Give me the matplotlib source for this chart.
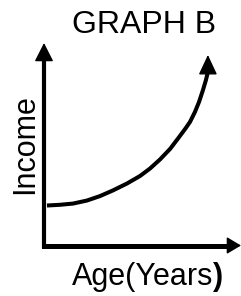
import matplotlib.pyplot as plt

# curve (age vs income, arbitrary 0-100 units)
age = [1.5, 8.1, 14.7, 21.8, 28.4, 35.0, 42.1, 48.7, 53.8, 58.9,
       64.0, 68.0, 71.6, 74.1, 76.6, 78.7, 80.7, 82.2, 83.2]
income = [19.75, 20.1, 20.7, 22.2, 24.4, 27.2, 30.6, 34.3, 38.0, 42.5,
          47.7, 52.8, 57.5, 61.0, 65.9, 70.9, 76.8, 81.7, 85.7]
tip_age, tip_income = 83.2, 94.1

title = "GRAPH B"
xlabel = "Age(Years"
xlabel_end = ")"
ylabel = "Income"

W, H = 241, 296
plt.rcParams['font.family'] = ['Liberation Sans', 'DejaVu Sans']
fig = plt.figure(figsize=(W / 100, H / 100), dpi=100)

# axes corner at (44, 245.5) px, arrow tips at x=241 and y=43
x0, y0, x1, y1 = 44, 245.5, 241, 43
ax = fig.add_axes([x0 / W, 1 - y0 / H, (x1 - x0) / W, (y0 - y1) / H])
ax.set_xlim(0, 100)
ax.set_ylim(0, 100)
ax.axis('off')

# axis lines
ax.plot([0, 95], [0, 0], color='black', lw=3.6, solid_capstyle='projecting', clip_on=False)
ax.plot([0, 0], [0, 95], color='black', lw=3.0, solid_capstyle='projecting', clip_on=False)
ax.annotate("", xy=(100, 0), xytext=(90, 0), xycoords='data',
            arrowprops=dict(arrowstyle='-|>,head_length=0.42,head_width=0.25',
                            mutation_scale=21, lw=1, color='black',
                            shrinkA=0, shrinkB=0), annotation_clip=False)
ax.annotate("", xy=(0, 100), xytext=(0, 90), xycoords='data',
            arrowprops=dict(arrowstyle='-|>,head_length=0.55,head_width=0.28',
                            mutation_scale=21, lw=1, color='black',
                            shrinkA=0, shrinkB=0), annotation_clip=False)

# income curve
ax.plot(age, income, color='black', lw=2.9, solid_capstyle='butt',
        solid_joinstyle='round', clip_on=False)
ax.annotate("", xy=(tip_age, tip_income), xytext=(age[-1], income[-2] + 2),
            arrowprops=dict(arrowstyle='-|>,head_length=0.62,head_width=0.29',
                            mutation_scale=20, lw=1, color='black',
                            shrinkA=0, shrinkB=0), annotation_clip=False)

# texts
fig.text(144.5 / W, 1 - 33 / H, title, fontsize=23, ha='center', va='baseline')
fig.text(213 / W, 1 - 285 / H, xlabel, fontsize=22, ha='right', va='baseline')
fig.text(213 / W, 1 - 285 / H, xlabel_end, fontsize=22, ha='left', va='baseline',
         fontweight='bold')
fig.text(33 / W, 1 - 144 / H, ylabel, fontsize=22, rotation=90,
         rotation_mode='anchor', ha='center', va='baseline')

fig.savefig("out.png", dpi=100)
